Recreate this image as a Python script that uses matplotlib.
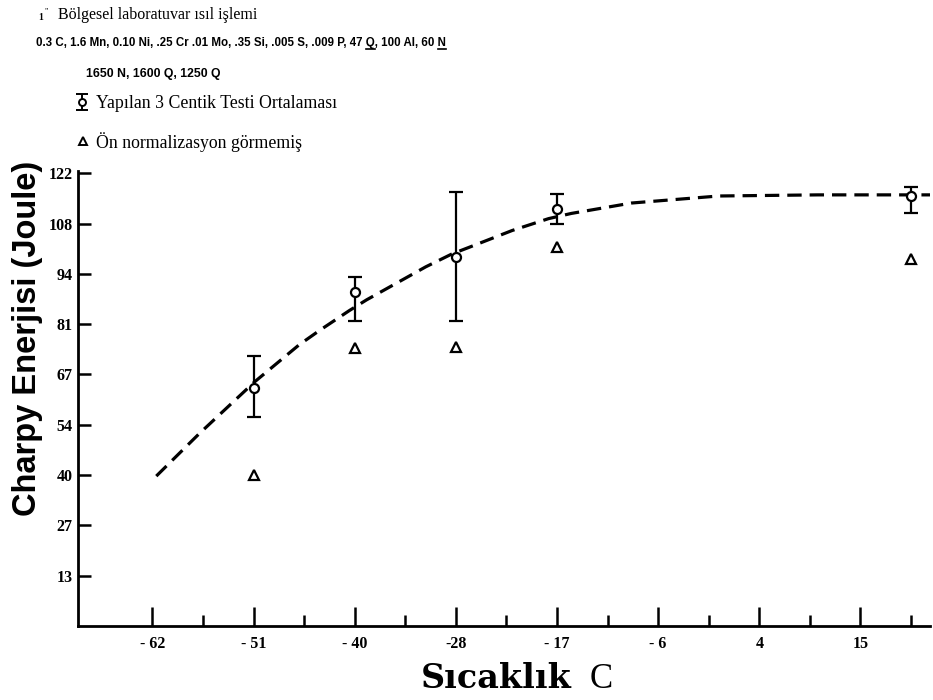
import numpy as np
import matplotlib.pyplot as plt
from matplotlib.ticker import FixedLocator

# Çentik testi sonuçları (sıcaklık C, enerji Joule)
temps = [-51.1, -40.0, -28.9, -17.8, 21.1]
energy_mean = [64.2, 90.0, 99.5, 112.4, 116.0]
energy_low = [56.3, 82.2, 82.2, 108.4, 111.3]
energy_high = [72.8, 94.1, 117.0, 116.4, 118.3]
# ön normalizasyon görmemiş numuneler
energy_raw = [40.7, 74.9, 75.2, 102.1, 98.9]

# elle çizilmiş eğilim eğrisi
curve_t = [-61.8, -57.1, -51.0, -46.1, -43.9, -40.6, -38.7, -32.2, -29.3,
           -27.5, -22.7, -18.7, -16.2, -9.6, 0.0, 10.9, 20.5, 23.3]
curve_e = [40.4, 51.8, 65.8, 75.8, 79.6, 85.0, 87.9, 96.8, 100.3,
           102.0, 106.6, 109.8, 111.2, 114.0, 115.9, 116.2, 116.2, 116.2]

# eksen etiketleri: F -> C ve ft-lb -> J dönüşümünden
xtick_f = np.arange(-80, 61, 20)
xtick_labels = ['- 62', '- 51', '- 40', '-28', '- 17', '- 6', '4', '15']
ytick_ftlb = np.arange(10, 91, 10)
ytick_labels = ['13', '27', '40', '54', '67', '81', '94', '108', '122']

SERIF = 'Liberation Serif'
SANS = 'Liberation Sans'

fig = plt.figure(figsize=(9.33, 7.0), dpi=100)
ax = fig.add_axes([78 / 933, 74 / 700, 852 / 933, 454.5 / 700])

xticks = (xtick_f - 32) * 5 / 9
yticks = ytick_ftlb * 1.3558
ax.set_xlim(-70.4, 23.2)
ax.set_ylim(0, 122.5)

for s in ['top', 'right']:
    ax.spines[s].set_visible(False)
for s in ['left', 'bottom']:
    ax.spines[s].set_linewidth(2.0)

ax.set_xticks(xticks)
ax.set_xticklabels(xtick_labels, fontfamily=SERIF, fontweight='bold', fontsize=11.5)
minor = (np.arange(-70, 71, 20) - 32) * 5 / 9
ax.xaxis.set_minor_locator(FixedLocator(minor))
ax.set_yticks(yticks)
ax.set_yticklabels(ytick_labels, fontfamily=SERIF, fontweight='bold', fontsize=11.5)
ax.tick_params(axis='x', which='major', direction='in', length=14, width=1.8, pad=7)
ax.tick_params(axis='x', which='minor', direction='in', length=8, width=1.8)
ax.tick_params(axis='y', which='major', direction='in', length=9, width=1.8, pad=4)

# eğilim eğrisi
ax.plot(curve_t, curve_e, color='black', lw=2.3, dashes=(4.5, 2.5), zorder=2)

# ortalama ve hata çubukları
yerr = [np.array(energy_mean) - np.array(energy_low),
        np.array(energy_high) - np.array(energy_mean)]
ax.errorbar(temps, energy_mean, yerr=yerr, fmt='o', color='black', ms=6.5,
            mfc='white', mew=1.6, elinewidth=1.6, capsize=5, capthick=1.8,
            zorder=3, clip_on=False)
ax.plot(temps, energy_raw, '^', color='black', ms=6.5, mfc='white', mew=1.6,
        zorder=3, clip_on=False)

# eksen başlıkları
fig.text(28 / 933, 1 - 338 / 700, 'Charpy Enerjisi (Joule)', rotation=90,
         fontfamily=SANS, fontweight='bold', fontsize=23.5, ha='center', va='center')
fig.text(572 / 933, 1 - 688 / 700, 'Sıcaklık', fontfamily='DejaVu Serif',
         fontweight='bold', fontsize=24, ha='right', va='baseline')
fig.text(590 / 933, 1 - 688 / 700, 'C', fontfamily=SERIF, fontsize=25,
         ha='left', va='baseline')

# üst kısımdaki açıklamalar (piksel koordinatlarında)
hdr = fig.add_axes([0, 0, 1, 1], zorder=5)
hdr.set_xlim(0, 933)
hdr.set_ylim(700, 0)
hdr.axis('off')
hdr.patch.set_alpha(0)

hdr.text(38, 20, '1', fontfamily=SERIF, fontweight='bold', fontsize=7, va='baseline')
hdr.text(44, 14, '"', fontfamily=SERIF, fontsize=6, va='baseline')
hdr.text(58, 19, 'Bölgesel laboratuvar ısıl işlemi', fontfamily=SERIF,
         fontsize=11.5, va='baseline')

line2 = '0.3 C, 1.6 Mn, 0.10 Ni, .25 Cr .01 Mo, .35 Si, .005 S, .009 P, 47 Q, 100 Al, 60 N'
props2 = dict(fontfamily=SANS, fontweight='bold', fontsize=8.3, va='baseline')
hdr.text(36, 46, line2, **props2)

# Q ve N altı çizgili
fig.canvas.draw()
renderer = fig.canvas.get_renderer()


def text_width(s):
    t = hdr.text(0, 0, s, **props2)
    w = t.get_window_extent(renderer).width
    t.remove()
    return w


for prefix in ['47 Q', '60 N']:
    head = line2[:line2.index(prefix) + len(prefix)]
    end = 36 + text_width(head)
    start = end - text_width(prefix[-1])
    hdr.plot([start, end], [49, 49], color='black', lw=1.2)

hdr.text(86, 77, '1650 N, 1600 Q, 1250 Q', fontfamily=SANS, fontweight='bold',
         fontsize=8.8, va='baseline')

# açıklama işaretleri
hdr.errorbar([82], [102], yerr=[8], fmt='o', color='black', ms=5, mfc='white',
             mew=1.4, elinewidth=1.4, capsize=4, capthick=1.6)
hdr.plot([83], [141], '^', color='black', ms=5.5, mfc='white', mew=1.4)
hdr.text(96, 108, 'Yapılan 3 Centik Testi Ortalaması', fontfamily=SERIF,
         fontsize=12.8, va='baseline')
hdr.text(96, 148, 'Ön normalizasyon görmemiş', fontfamily=SERIF,
         fontsize=12.8, va='baseline')

fig.savefig('out.png', dpi=100, facecolor='white')
